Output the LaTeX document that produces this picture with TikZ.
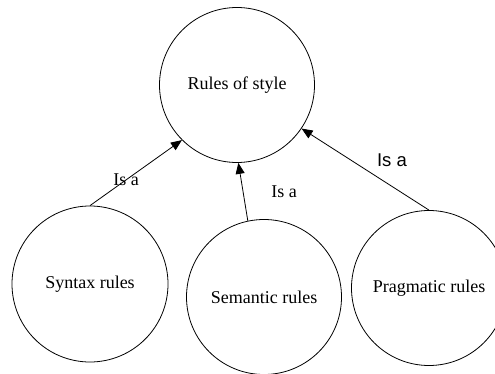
\documentclass[tikz,border=0pt]{standalone}
\usepackage{fontspec}
\setmainfont{Liberation Serif}
\setsansfont{Liberation Sans}
\usetikzlibrary{arrows.meta}
\tikzset{
  concept/.style={draw, circle, line width=0.8pt, minimum size=155pt, inner sep=0pt,
    font=\fontsize{18}{21}\selectfont},
  isa/.style={line width=0.8pt, -{Triangle[length=11pt,width=9pt]}},
  lbl/.style={inner sep=0pt, font=\fontsize{18}{21}\selectfont},
  lblsans/.style={inner sep=0pt, font=\sffamily\fontsize{18.5}{21}\selectfont}
}
\begin{document}
\begin{tikzpicture}[x=1pt,y=-1pt]
\useasboundingbox (0,0) rectangle (495,374);
\fill[white] (0,0) rectangle (495,374);
\clip (0,0) rectangle (495,374);
\node[concept] (top) at (237,85) {Rules of style};
\node[concept, minimum size=156pt] (syn) at (90,284) {Syntax rules};
\node[concept] (sem) at (264,297) {Semantic rules};
\node[concept] (prag) at (429,288) {Pragmatic rules};
\draw[isa] (syn.north) -- (top.225);
\draw[isa] (sem.102) -- (top.271);
\draw[isa] (prag.north) -- (top.-34);
\node[lbl] (l1) at (126,180) {Is a};
\node[lbl] (l2) at (284,192) {Is a};
\node[lblsans] (l3) at (392,160) {Is a};
\end{tikzpicture}
\end{document}
